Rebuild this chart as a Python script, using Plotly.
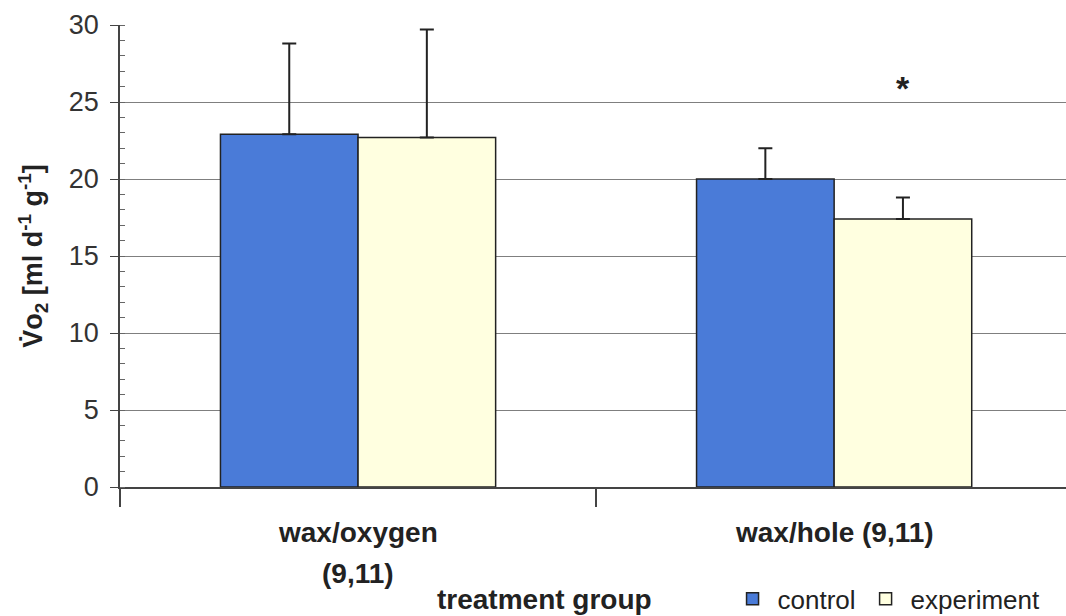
import plotly.graph_objects as go

# Oxygen consumption by treatment group
categories = ["wax/oxygen<br>(9,11)", "wax/hole (9,11)"]
control_mean = [22.9, 20.0]
control_sd = [5.9, 2.0]
experiment_mean = [22.7, 17.4]
experiment_sd = [7.0, 1.4]
y_ticks = [0, 5, 10, 15, 20, 25, 30]

FONT = "Liberation Sans, Arial, sans-serif"
INK = "#222222"
x_pos = list(range(len(categories)))

fig = go.Figure()
fig.add_trace(go.Bar(
    name="control", x=x_pos, y=control_mean,
    marker=dict(color="#4a7bd8", line=dict(color=INK, width=1.5)),
    error_y=dict(type="data", array=control_sd, symmetric=False,
                 arrayminus=[0] * len(control_sd),
                 color=INK, thickness=2, width=7),
))
fig.add_trace(go.Bar(
    name="experiment", x=x_pos, y=experiment_mean,
    marker=dict(color="#ffffe0", line=dict(color=INK, width=1.5)),
    error_y=dict(type="data", array=experiment_sd, symmetric=False,
                 arrayminus=[0] * len(experiment_sd),
                 color=INK, thickness=2, width=7),
))

# category labels under the axis, one line per annotation for wider leading
for i, label in enumerate(categories):
    for j, line in enumerate(label.split("<br>")):
        fig.add_annotation(x=i, y=0, xref="x", yref="paper", yanchor="middle",
                           yshift=-45 - 41 * j, text=f"<b>{line}</b>",
                           showarrow=False,
                           font=dict(family=FONT, size=28, color=INK))

# significance marker above the second group's experiment bar
fig.add_annotation(x=1 + 0.145, y=25.9, xref="x", yref="y", text="<b>*</b>",
                   showarrow=False, font=dict(family=FONT, size=34, color=INK))

# x-axis title
fig.add_annotation(x=0.449, y=0, xref="paper", yref="paper", yanchor="middle",
                   yshift=-112, text="<b>treatment group</b>", showarrow=False,
                   font=dict(family=FONT, size=28, color=INK))

fig.update_layout(
    width=1066, height=616,
    margin=dict(l=120, r=0, t=25, b=129, autoexpand=False),
    paper_bgcolor="white", plot_bgcolor="white",
    barmode="group", bargap=0.422, bargroupgap=0,
    font=dict(family=FONT, color=INK),
    showlegend=True,
    legend=dict(orientation="h", xref="container", yref="container",
                x=0.6825, xanchor="left", y=0.028, yanchor="middle",
                itemwidth=40,
                font=dict(family=FONT, size=26, color=INK),
                bgcolor="rgba(0,0,0,0)", traceorder="normal"),
    xaxis=dict(
        range=[-0.5, 1.487], tickmode="array", tickvals=x_pos,
        showticklabels=False, ticks="", showgrid=False, zeroline=False,
        showline=True, linecolor="#444444", linewidth=1.5,
        minor=dict(tickmode="array", tickvals=[-0.5, 0.5, 1.5],
                   ticks="outside", ticklen=18, tickcolor="#444444",
                   tickwidth=1.5, showgrid=False),
        automargin=False,
    ),
    yaxis=dict(
        range=[0, 30], tickmode="array", tickvals=y_ticks,
        ticks="outside", ticklen=8, tickcolor="#444444", tickwidth=1.2,
        showgrid=True, gridcolor="#7f7f7f", gridwidth=1.2,
        zeroline=False, showline=True, linecolor="#444444", linewidth=1.5,
        tickfont=dict(family=FONT, size=27, color="#333333"),
        ticklabelstandoff=6,
        minor=dict(dtick=1, ticks="inside", ticklen=5,
                   tickcolor="#666666", tickwidth=1, showgrid=False),
        title=dict(text="<b>V\u0307o<sub>2</sub> [ml d<sup>-1</sup> g<sup>-1</sup>]</b>",
                   font=dict(family=FONT, size=27, color=INK), standoff=18),
        automargin=False,
    ),
)

fig.write_html("out.html")
